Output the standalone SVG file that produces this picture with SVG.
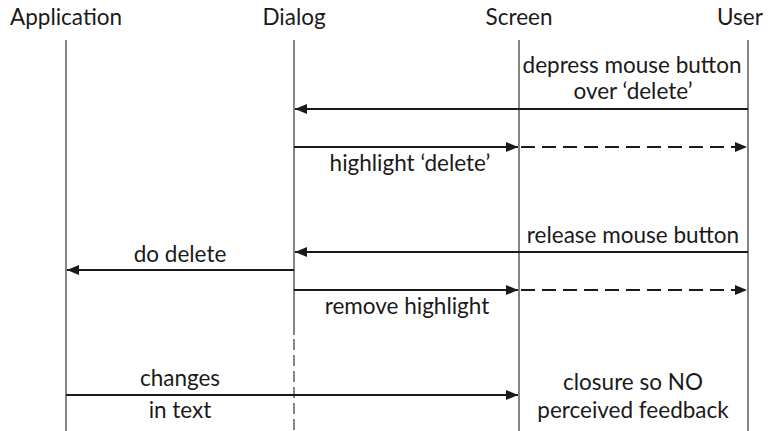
<svg xmlns="http://www.w3.org/2000/svg" width="774" height="431" viewBox="0 0 774 431">
<style>
text{font-family:Lato,"Open Sans","DejaVu Sans",sans-serif;font-size:22.5px;fill:#1a1a1a}
.life{stroke:#444;stroke-width:1.3;fill:none}
.msg{stroke:#1a1a1a;stroke-width:2.2;fill:none}
.dash{stroke-dasharray:14 7}
.c{text-anchor:middle}
</style>
<defs>
<marker id="ah" viewBox="0 0 12 10" refX="12" refY="5" markerWidth="12" markerHeight="10" markerUnits="userSpaceOnUse" orient="auto">
<path d="M0,0 L12,5 L0,10 Z" fill="#1a1a1a"/>
</marker>
</defs>
<g id="application"><text x="10" y="25">Application</text><line class="life" x1="66" y1="40" x2="66" y2="431"/></g>
<g id="dialog"><text class="c" x="294" y="25">Dialog</text><line class="life" x1="294" y1="40" x2="294" y2="335"/><line class="life" x1="294" y1="339" x2="294" y2="431" stroke-dasharray="11 5"/></g>
<g id="screen"><text class="c" x="519" y="25">Screen</text><line class="life" x1="519" y1="40" x2="519" y2="431"/></g>
<g id="user"><text class="c" x="740" y="25">User</text><line class="life" x1="748" y1="40" x2="748" y2="431"/></g>
<g id="connectors">
<line class="msg" x1="748" y1="109" x2="295" y2="109" marker-end="url(#ah)"/>
<line class="msg" x1="294" y1="147" x2="518" y2="147" marker-end="url(#ah)"/>
<line class="msg dash" x1="521" y1="147" x2="747" y2="147" marker-end="url(#ah)"/>
<line class="msg" x1="748" y1="252" x2="295" y2="252" marker-end="url(#ah)"/>
<line class="msg" x1="294" y1="270" x2="67" y2="270" marker-end="url(#ah)"/>
<line class="msg" x1="294" y1="290" x2="518" y2="290" marker-end="url(#ah)"/>
<line class="msg dash" x1="521" y1="290" x2="747" y2="290" marker-end="url(#ah)"/>
<line class="msg" x1="66" y1="395" x2="518" y2="395" marker-end="url(#ah)"/>
</g>
<g id="labels">
<text class="c" x="632" y="73">depress mouse button</text>
<text class="c" x="633" y="99">over ‘delete’</text>
<text class="c" x="410" y="171">highlight ‘delete’</text>
<text class="c" x="633" y="243">release mouse button</text>
<text class="c" x="180" y="262">do delete</text>
<text class="c" x="407" y="314">remove highlight</text>
<text class="c" x="180" y="386">changes</text>
<text class="c" x="180" y="418">in text</text>
<text class="c" x="633" y="390">closure so NO</text>
<text class="c" x="633" y="418">perceived feedback</text>
</g>
</svg>
